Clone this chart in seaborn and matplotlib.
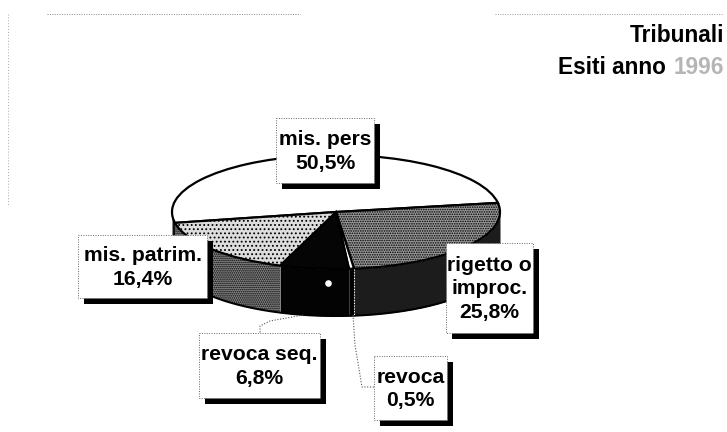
import numpy as np
import matplotlib
matplotlib.use('Agg')
import matplotlib.pyplot as plt
from matplotlib.patches import Rectangle
import seaborn as sns

categories = ['mis. pers', 'rigetto o\nimproc.', 'revoca', 'revoca seq.', 'mis. patrim.']
values = [50.5, 25.8, 0.5, 6.8, 16.4]
value_labels = ['50,5%', '25,8%', '0,5%', '6,8%', '16,4%']

sns.set_theme(style='white')
plt.rcParams['font.family'] = ['Liberation Sans', 'DejaVu Sans']
plt.rcParams['hatch.linewidth'] = 0.8

W, H = 727, 432
cx, cy = 336, 212   # centro ellisse in pixel
rx, ry = 164, 57
depth = 47 / ry

top_colors = sns.color_palette(['#ffffff', '#9a9a9a', '#ffffff', '#050505', '#dddddd'])
top_hatch = [None, '.......', None, None, '....']
wall_colors = sns.color_palette(['#111111', '#1c1c1c', '#000000', '#030303', '#8a8a8a'])
wall_hatch = [None, None, None, None, '........']

fig = plt.figure(figsize=(W / 100, H / 100), dpi=100)
ax = fig.add_axes([0, 0, 1, 1])
wedges, _ = ax.pie(values, startangle=191, counterclock=False, colors=top_colors, hatch=top_hatch,
                   wedgeprops={'edgecolor': 'black', 'linewidth': 1.6, 'zorder': 3})
ax.set_aspect('auto')
ax.set_xlim(-cx / rx, (W - cx) / rx)
ax.set_ylim(-(H - cy) / ry, cy / ry)

# parete laterale, dagli angoli restituiti dalla torta
for w, col, hh in zip(wedges, wall_colors, wall_hatch):
    for off in (0, -360):
        a, b = max(w.theta1 + off, -180), min(w.theta2 + off, 0)
        if b <= a:
            continue
        t = np.radians(np.linspace(a, b, 60))
        ax.fill_between(np.cos(t), np.sin(t), np.sin(t) - depth, facecolor=col,
                        edgecolor='black', hatch=hh, lw=0, zorder=2)
t = np.radians(np.linspace(-180, 0, 200))
ax.plot(np.cos(t), np.sin(t) - depth, color='black', lw=1.5, zorder=2)

# confine chiaro tra revoca e rigetto
b = np.radians(wedges[1].theta1)
ax.plot([np.cos(b)] * 2, [np.sin(b), np.sin(b) - depth], color='white', lw=0.8, ls=(0, (1, 1.5)), zorder=4)

ov = fig.add_axes([0, 0, 1, 1])
ov.set_xlim(0, W)
ov.set_ylim(H, 0)
ov.axis('off')
ov.patch.set_alpha(0)

# cornice puntinata dello scan
ov.plot([47, 300], [13.5, 13.5], color='#888888', lw=0.7, ls=(0, (1, 1.5)))
ov.plot([495, 722], [13.5, 13.5], color='#999999', lw=0.7, ls=(0, (1, 1.5)))
ov.plot([7.5, 7.5], [14, 205], color='#aaaaaa', lw=0.7, ls=(0, (1, 2)))

ov.scatter([328], [283], s=14, color='white', zorder=5)

# linee guida
ov.plot([303, 270, 260, 260], [315, 321, 326, 333], color='#555555', lw=0.8, ls=(0, (1, 1.5)))
ov.plot([353, 355, 362, 374], [315, 345, 387, 387], color='#555555', lw=0.8, ls=(0, (1, 1.5)))

boxes = [(276, 118, 374, 183), (446, 243, 533, 333), (374, 356, 447, 420),
         (199, 333, 320, 398), (78, 235, 207, 298)]
for name, val, (x0, y0, x1, y1) in zip(categories, value_labels, boxes):
    ov.add_patch(Rectangle((x0 + 6, y0 + 6), x1 - x0, y1 - y0, color='black', lw=0, zorder=6))
    ov.add_patch(Rectangle((x0, y0), x1 - x0, y1 - y0, facecolor='white', edgecolor='#666666',
                           lw=0.7, ls=(0, (1, 1.5)), zorder=7))
    ov.text((x0 + x1) / 2, (y0 + y1) / 2 + 1, name + '\n' + val, ha='center', va='center',
            fontsize=15.2, fontweight='bold', color='black', linespacing=1.32, zorder=8)

ov.text(724, 35, 'Tribunali', ha='right', va='center', fontsize=16.3, fontweight='bold', color='black')
ov.text(666, 67, 'Esiti anno', ha='right', va='center', fontsize=16.3, fontweight='bold', color='black')
ov.text(724, 67, '1996', ha='right', va='center', fontsize=16.3, fontweight='bold', color='#b5b5b5')

plt.savefig('out.png', dpi=100)
